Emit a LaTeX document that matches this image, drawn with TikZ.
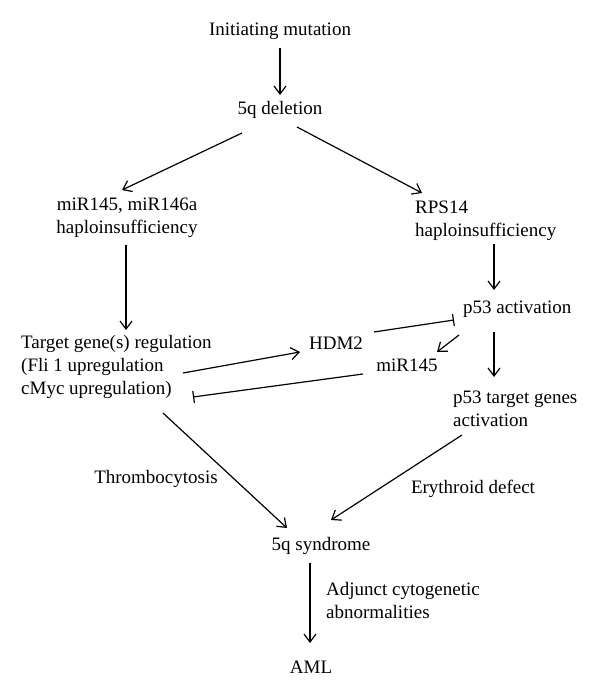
\documentclass[tikz,border=0pt]{standalone}
\usepackage{fontspec}
\setmainfont{Liberation Serif}
\usetikzlibrary{arrows.meta,calc}
\begin{document}
\begin{tikzpicture}[x=1bp,y=-1bp,
  every node/.style={font=\fontsize{19bp}{23bp}\selectfont, inner sep=0pt},
  arr/.style={-{Straight Barb[length=8bp,width=12bp]}, line width=1.2bp},
  inh/.style={-{Bar[width=12bp]}, line width=1.2bp}]
\useasboundingbox (0,0) rectangle (600,695);
\fill[white] (0,0) rectangle (600,695);

\node (init) at (280,31) {Initiating mutation};
\node (del) at (280,110) {5q deletion};
\node[align=center] (mir) at (127,217.5) {miR145, miR146a\\haploinsufficiency};
\node[align=left,anchor=west] (rps) at (415,221) {RPS14\\haploinsufficiency};
\node[align=left,anchor=west] (target) at (21,367) {Target gene(s) regulation\\(Fli 1 upregulation\\cMyc upregulation)};
\node[anchor=west] (p53) at (463,309) {p53 activation};
\node (hdm2) at (336,343) {HDM2};
\node (mirb) at (407,365) {miR145};
\node[align=left,anchor=west] (p53t) at (453,409) {p53 target genes\\activation};
\node (thr) at (156,479) {Thrombocytosis};
\node (ery) at (473,489) {Erythroid defect};
\node (syn) at (321,546) {5q syndrome};
\node[align=left,anchor=west] (adj) at (326,600) {Adjunct cytogenetic\\abnormalities};
\node (aml) at (311,667) {AML};

\draw[arr] ($(init)+(0,17)$) -- ($(del)+(0,-15)$);
\draw[arr] ($(del)+(-38,23)$) -- ($(mir)+(-5,-27.5)$);
\draw[arr] ($(del)+(17,17)$) -- ($(rps.west)+(7,-28)$);
\draw[arr] ($(mir)+(-1,27.5)$) -- ($(target.west)+(105,-37)$);
\draw[arr] ($(rps.west)+(79,23)$) -- ($(p53.west)+(31,-19)$);
\draw[arr] ($(p53.west)+(31,23)$) -- ($(p53t.west)+(41,-32)$);
\draw[inh] ($(hdm2)+(38,-11)$) -- ($(p53.west)+(-9,11)$);
\draw[arr] ($(p53.west)+(-4,26)$) -- ($(mirb)+(30,-13)$);
\draw[arr] ($(target.west)+(162,6)$) -- ($(hdm2)+(-36,9)$);
\draw[inh] ($(mirb)+(-44,9)$) -- ($(target.west)+(172,30)$);
\draw[arr] ($(target.west)+(142,46)$) -- ($(syn)+(-34,-18)$);
\draw[arr] ($(p53t.west)+(9,26)$) -- ($(syn)+(10,-26)$);
\draw[arr] ($(syn)+(-11,17)$) -- ($(aml)+(-1,-24)$);
\end{tikzpicture}
\end{document}
